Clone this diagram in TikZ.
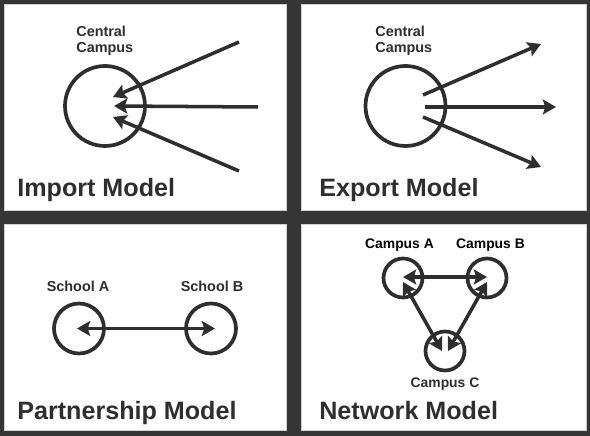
\documentclass[tikz,border=0pt]{standalone}
\usepackage{fontspec}
\setmainfont{Liberation Sans}
\usepackage{xcolor}
\usetikzlibrary{arrows.meta}
\definecolor{ink}{HTML}{2E2E2E}
\definecolor{frame}{HTML}{353535}

\begin{document}
\begin{tikzpicture}[
  every node/.style={font=\bfseries\fontsize{8.2}{9.2}\selectfont, text=ink, inner sep=0pt},
  panel/.style={fill=white, draw=black!18, line width=0.4pt},
  campus/.style={circle, draw=ink, line width=2.1pt, inner sep=0pt},
  link/.style={draw=ink, line width=2pt, -{Stealth[length=7.5pt,width=8.5pt,inset=1.4pt]}},
  both/.style={link, {Stealth[length=7.5pt,width=8.5pt,inset=1.4pt]}-{Stealth[length=7.5pt,width=8.5pt,inset=1.4pt]}},
  title/.style={anchor=base west, font=\bfseries\fontsize{14.3}{15.5}\selectfont}
]
\useasboundingbox (0,0) rectangle (11.8,8.72);
\fill[frame] (0,0) rectangle (11.8,8.72);
\draw[panel] (0.08,4.52) rectangle (5.72,8.64);
\draw[panel] (6.02,4.52) rectangle (11.72,8.64);
\draw[panel] (0.08,0.11) rectangle (5.72,4.23);
\draw[panel] (6.02,0.11) rectangle (11.72,4.23);
% import
\begin{scope}
\node[campus, minimum size=1.6cm] (cc) at (2.10,6.60) {};
\node[anchor=west, align=left] (cclab) at (1.52,7.91) {Central\\Campus};
\coordinate (in1) at (4.78,7.88);
\coordinate (in2) at (5.16,6.58);
\coordinate (in3) at (4.78,5.30);
\draw[link] (in1) -- ([shift={(0.16,0.18)}]cc.center);
\draw[link] (in2) -- ([shift={(0.18,0)}]cc.center);
\draw[link] (in3) -- ([shift={(0.16,-0.22)}]cc.center);
\node[title] (imp) at (0.34,4.78) {Import Model};
\end{scope}
% export
\begin{scope}
\node[campus, minimum size=1.6cm] (ec) at (8.11,6.60) {};
\node[anchor=west, align=left] (eclab) at (7.50,7.91) {Central\\Campus};
\coordinate (out1) at (10.82,7.84);
\coordinate (out2) at (11.12,6.58);
\coordinate (out3) at (10.82,5.38);
\draw[link] ([shift={(0.35,0.22)}]ec.center) -- (out1);
\draw[link] ([shift={(0.39,-0.02)}]ec.center) -- (out2);
\draw[link] ([shift={(0.35,-0.22)}]ec.center) -- (out3);
\node[title] (exp) at (6.38,4.78) {Export Model};
\end{scope}
% partnership
\begin{scope}
\node[campus, minimum size=1.0cm] (sa) at (1.58,2.15) {};
\node[campus, minimum size=1.0cm] (sb) at (4.22,2.15) {};
\node (salab) at (1.56,3.00) {School A};
\node (sblab) at (4.24,3.00) {School B};
\draw[both] ([xshift=-0.04cm]sa.center) -- ([xshift=0.08cm]sb.center);
\node[title] (par) at (0.34,0.32) {Partnership Model};
\end{scope}
% network
\begin{scope}[every node/.append style={font=\bfseries\fontsize{7.9}{9}\selectfont}]
\node[campus, minimum size=0.78cm] (ka) at (8.06,3.16) {};
\node[campus, minimum size=0.78cm] (kb) at (9.74,3.16) {};
\node[campus, minimum size=0.78cm] (kc) at (8.90,1.70) {};
\node[text=black] (kalab) at (7.99,3.82) {Campus A};
\node[text=black] (kblab) at (9.81,3.82) {Campus B};
\node (kclab) at (8.90,1.04) {Campus C};
\draw[both] ([yshift=0.02cm]ka.center) -- ([yshift=0.02cm]kb.center);
\draw[both] ([yshift=-0.08cm]ka.center) -- ([xshift=-0.06cm]kc.center);
\draw[both] ([yshift=-0.08cm]kb.center) -- ([xshift=0.06cm]kc.center);
\node[title] (net) at (6.38,0.32) {Network Model};
\end{scope}
\end{tikzpicture}
\end{document}
